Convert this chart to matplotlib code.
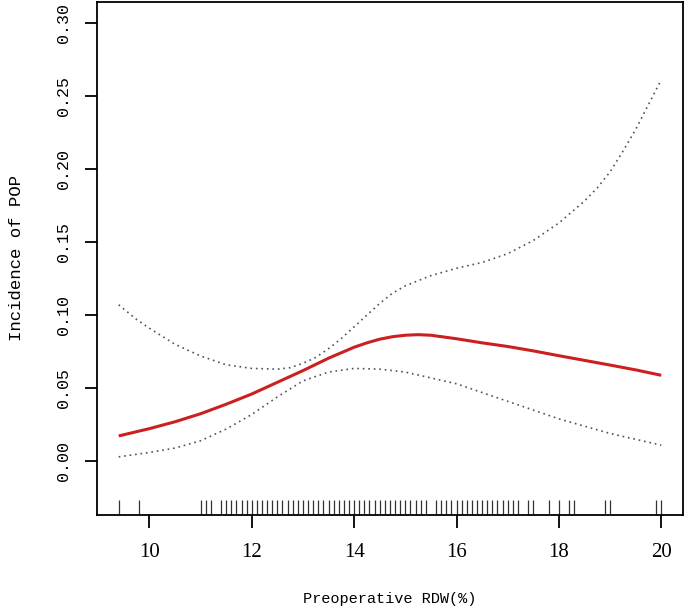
import numpy as np
import matplotlib
matplotlib.use('Agg')
import matplotlib.pyplot as plt

# fitted curve and 95% CI
x_fit = [9.4, 10.0, 10.5, 11.0, 11.5, 12.0, 12.5, 13.0, 13.5, 14.0, 14.25, 14.5, 14.75,
         15.0, 15.25, 15.5, 16.0, 16.5, 17.0, 17.5, 18.0, 18.5, 19.0, 19.5, 20.0]
y_fit = [0.0173, 0.0223, 0.027, 0.0325, 0.039, 0.046, 0.054, 0.062, 0.0705, 0.078, 0.081, 0.0835, 0.0852,
         0.0862, 0.0866, 0.0862, 0.0838, 0.081, 0.0785, 0.0755, 0.0722, 0.069, 0.0658, 0.0625, 0.0588]

x_up = [9.4, 9.75, 10.0, 10.5, 11.0, 11.5, 12.0, 12.5, 12.75, 13.0, 13.25, 13.5, 13.75, 14.0,
        14.25, 14.5, 14.75, 15.0, 15.5, 16.0, 16.5, 17.0, 17.5, 18.0, 18.5, 18.75, 19.0, 19.25,
        19.5, 19.75, 20.0]
y_up = [0.107, 0.097, 0.091, 0.080, 0.072, 0.066, 0.0635, 0.063, 0.064, 0.067, 0.071, 0.077, 0.084, 0.092,
        0.100, 0.108, 0.115, 0.120, 0.127, 0.132, 0.136, 0.142, 0.151, 0.163, 0.178, 0.187, 0.198, 0.212,
        0.227, 0.244, 0.261]

x_lo = [9.4, 10.0, 10.5, 11.0, 11.5, 12.0, 12.5, 13.0, 13.5, 14.0, 14.5,
        15.0, 15.5, 16.0, 16.5, 17.0, 17.5, 18.0, 18.5, 19.0, 19.5, 20.0]
y_lo = [0.003, 0.006, 0.009, 0.014, 0.022, 0.032, 0.044, 0.055, 0.061, 0.0635, 0.063,
        0.061, 0.057, 0.053, 0.047, 0.041, 0.035, 0.029, 0.024, 0.019, 0.015, 0.011]

# rug of observed RDW values
rug = [9.4, 9.8, 11.0, 11.1, 11.2,
       11.4, 11.5, 11.6, 11.7, 11.8, 11.9, 12.0, 12.1, 12.2, 12.3, 12.4, 12.5, 12.6, 12.7,
       12.8, 12.9, 13.0, 13.1, 13.2, 13.3, 13.4, 13.5, 13.6, 13.7, 13.8, 13.9, 14.0, 14.1,
       14.2, 14.3, 14.4, 14.5, 14.6, 14.7, 14.8, 14.9, 15.0, 15.1, 15.2, 15.3, 15.4,
       15.6, 15.7, 15.8, 15.9, 16.0, 16.1, 16.2, 16.3, 16.4, 16.5, 16.6, 16.7, 16.8, 16.9,
       17.0, 17.1, 17.2, 17.4, 17.5, 17.8, 18.0, 18.2, 18.3, 18.9, 19.0, 19.9, 20.0]

xticks = [10, 12, 14, 16, 18, 20]
yticks = [0.00, 0.05, 0.10, 0.15, 0.20, 0.25, 0.30]

fig = plt.figure(figsize=(6.85, 6.14), dpi=100)
ax = fig.add_axes([0.1416, 0.1612, 0.997 - 0.1416, 0.997 - 0.1612])

ax.plot(x_up, y_up, color='#50506a', lw=1.2, linestyle=(0, (1, 2.3)))
ax.plot(x_lo, y_lo, color='#50506a', lw=1.2, linestyle=(0, (1, 2.3)))
ax.plot(x_fit, y_fit, color='#cc1f1f', lw=2.2, solid_capstyle='butt')

ax.vlines(rug, 0, 0.03, transform=ax.get_xaxis_transform(), color='#333333', lw=0.9)

ax.set_xlim(8.976, 20.424)
ax.set_ylim(-0.0368, 0.3143)
ax.set_xticks(xticks)
ax.set_xticklabels([str(t) for t in xticks], family='Liberation Serif', fontsize=15)
ax.set_yticks(yticks)
ax.set_yticklabels(['%.2f' % t for t in yticks], family='Liberation Mono', fontsize=12,
                   rotation=90, va='center')

ax.tick_params(axis='x', length=9, width=1.3, pad=11)
ax.tick_params(axis='y', length=9, width=1.3, pad=10)
for s in ax.spines.values():
    s.set_linewidth(1.3)

ax.set_xlabel('Preoperative RDW(%)', family='Liberation Mono', fontsize=11, labelpad=22)
ax.set_ylabel('Incidence of POP', family='Liberation Mono', fontsize=12.5, labelpad=23)

fig.savefig('out.png', dpi=100)
